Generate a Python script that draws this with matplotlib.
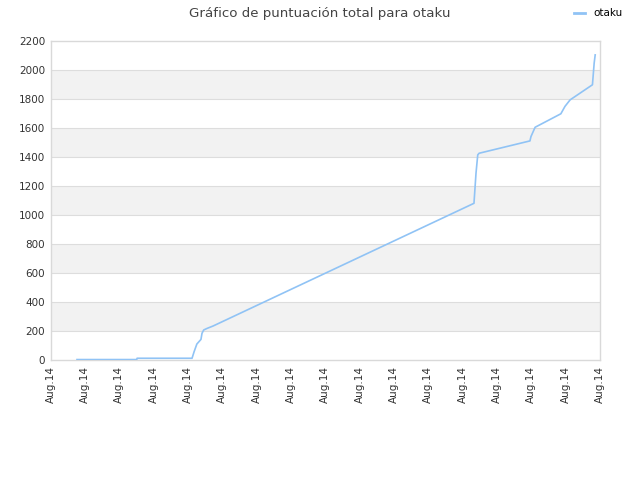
import matplotlib.pyplot as plt

# values (x in tick steps, y = total score)
x_vals = [0.77, 2.51, 2.52, 4.12, 4.18, 4.26, 4.38, 4.41, 4.46, 4.56, 4.73,
          12.33, 12.39, 12.44, 12.48, 13.96, 13.99, 14.11, 14.86, 14.98, 15.13,
          15.78, 15.83, 15.86]
y_vals = [3, 3, 12, 12, 57, 110, 142, 184, 207, 218, 234,
          1080, 1290, 1414, 1425, 1510, 1540, 1604, 1697, 1748, 1793,
          1897, 2046, 2103]
tick_labels = ['Aug.14'] * 17
y_ticks = list(range(0, 2201, 200))

fig = plt.figure(figsize=(6.4, 4.8), dpi=100)
ax = fig.add_axes([0.079, 0.25, 0.8585, 0.665])

# alternating grey bands
for i, lo in enumerate(y_ticks[:-1]):
    if i % 2 == 1:
        ax.axhspan(lo, lo + 200, color='#f2f2f2', zorder=0, lw=0)
for y in y_ticks[1:-1]:
    ax.axhline(y, color='#dddddd', lw=0.8, zorder=1)

ax.plot(x_vals, y_vals, color='#90c3f5', lw=1.2, label='otaku', zorder=3)

ax.set_xlim(0, 16)
ax.set_ylim(0, 2200)
ax.set_yticks(y_ticks)
ax.set_yticklabels([str(v) for v in y_ticks], fontsize=7.5, color='#333333')
ax.set_xticks(range(17))
ax.set_xticklabels(tick_labels, rotation=90, fontsize=7.5, color='#333333')
ax.tick_params(length=0, pad=4)
for s in ax.spines.values():
    s.set_color('#d9d9d9')
    s.set_linewidth(1.0)

fig.text(0.4992, 1 - 13 / 480, 'Gráfico de puntuación total para otaku', fontsize=9.6,
         color='#444444', ha='center', va='center')
leg = fig.legend(loc='center left', bbox_to_anchor=(574 / 640, 1 - 13.3 / 480), frameon=False,
                 fontsize=7.5, handlelength=1.05, handletextpad=0.85, borderpad=0, borderaxespad=0)
for h in leg.get_lines():
    h.set_linewidth(2)

fig.savefig('out.png', dpi=100)
